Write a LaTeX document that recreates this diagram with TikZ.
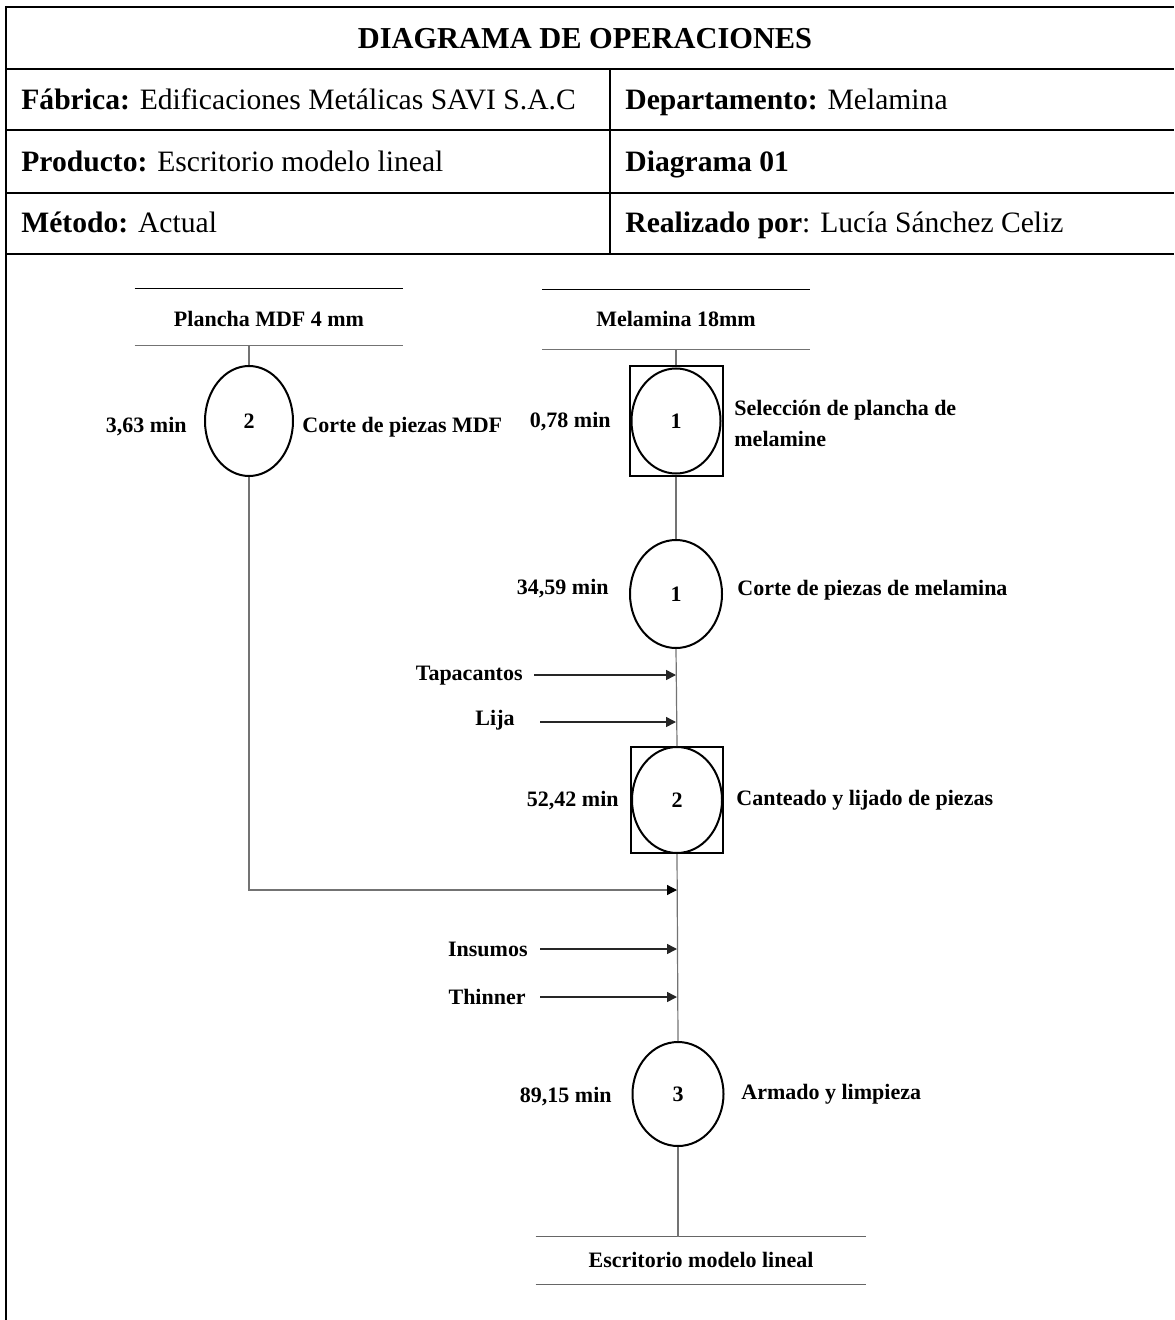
\documentclass[tikz,border=0pt]{standalone}
\usepackage{fontspec}
\setmainfont{Liberation Serif}
\usetikzlibrary{arrows.meta,shapes.geometric}
\begin{document}
\begin{tikzpicture}[x=0.5pt,y=-0.5pt,
  frame/.style={line width=1.3pt,black},
  divider/.style={line width=0.8pt,black},
  hdr/.style={font=\fontsize{14.8}{17}\selectfont,inner sep=0pt,anchor=base west},
  ttl/.style={font=\fontsize{15.2}{18}\selectfont\bfseries,inner sep=0pt,anchor=base},
  lbl/.style={font=\fontsize{11}{13}\selectfont\bfseries,inner sep=0pt},
  opc/.style={ellipse,draw,line width=1pt,inner sep=0pt,font=\fontsize{11}{13}\selectfont\bfseries},
  sqbox/.style={rectangle,draw,line width=1pt,inner sep=0pt},
  endbar/.style={rectangle,inner sep=0pt},
  flow/.style={line width=0.6pt,black!55},
  inarrow/.style={line width=0.75pt,black!85,-{Triangle[length=5pt,width=5pt]}},
  mdfarrow/.style={line width=0.6pt,black!55,-{Triangle[length=5pt,width=5pt,fill=black,color=black]}}
]
\useasboundingbox (0,0) rectangle (1174,1320);

% ---------- header table ----------
\draw[frame] (6,7) -- (1174,7);
\draw[frame] (6,69) -- (1174,69);
\draw[frame] (6,130) -- (1174,130);
\draw[frame] (6,193) -- (1174,193);
\draw[frame] (6,254) -- (1174,254);
\draw[frame] (6,6) -- (6,1320);
\draw[divider] (610,69) -- (610,254);

\node[ttl] (title) at (585,49) {DIAGRAMA DE OPERACIONES};
\node[hdr] (fab) at (21,110) {\textbf{Fábrica:} Edificaciones Metálicas SAVI S.A.C};
\node[hdr] (dep) at (625,110) {\textbf{Departamento:} Melamina};
\node[hdr] (prod) at (21,172) {\textbf{Producto:} Escritorio modelo lineal};
\node[hdr] (diag) at (625,172) {\textbf{Diagrama 01}};
\node[hdr] (met) at (21,233) {\textbf{Método:} Actual};
\node[hdr] (real) at (625,233) {\textbf{Realizado por}: Lucía Sánchez Celiz};

% ---------- source bars ----------
\node[endbar,minimum width=134pt,minimum height=28pt] (mdf) at (269,317) {};
\draw[line width=0.6pt,black] (mdf.north west) -- (mdf.north east);
\draw[line width=0.6pt,black!55] (mdf.south west) -- (mdf.south east);
\node[lbl,anchor=base] (mdfL) at (269,327) {Plancha MDF 4 mm};

\node[endbar,minimum width=133.5pt,minimum height=29.5pt] (mel) at (676,319.5) {};
\draw[line width=0.6pt,black] (mel.north west) -- (mel.north east);
\draw[line width=0.6pt,black!55] (mel.south west) -- (mel.south east);
\node[lbl,anchor=base] (melL) at (676,327) {Melamina 18mm};

% ---------- MDF column ----------
\node[opc,minimum width=44pt,minimum height=55pt] (op2) at (249,421) {2};
\node[lbl,anchor=base east] (t2) at (187,432) {3,63 min};
\node[lbl,anchor=base west] (d2) at (302,432) {Corte de piezas MDF};

% ---------- main column ----------
\node[sqbox,minimum width=46.5pt,minimum height=54.5pt] (s1) at (676,421) {};
\node[opc,minimum width=44.5pt,minimum height=52.5pt] (c1) at (676,421) {1};
\node[lbl,anchor=base east] (t1) at (611,427) {0,78 min};
\node[lbl,anchor=west,align=left,font=\fontsize{11}{15.5}\selectfont\bfseries] (d1) at (734,423) {Selección de plancha de\\melamine};

\node[opc,minimum width=46pt,minimum height=54pt] (op1) at (676,594) {1};
\node[lbl,anchor=base east] (t3) at (609,594) {34,59 min};
\node[lbl,anchor=base west] (d3) at (737,595) {Corte de piezas de melamina};

\node[sqbox,minimum width=46pt,minimum height=53pt] (s2) at (677,800) {};
\node[opc,minimum width=45pt,minimum height=53pt] (c2) at (677,800) {2};
\node[lbl,anchor=base east] (t4) at (619,806) {52,42 min};
\node[lbl,anchor=base west] (d4) at (736,805) {Canteado y lijado de piezas};

\node[opc,minimum width=45.5pt,minimum height=52pt] (op3) at (678,1094) {3};
\node[lbl,anchor=base east] (t5) at (612,1102) {89,15 min};
\node[lbl,anchor=base west] (d5) at (741,1099) {Armado y limpieza};

\node[endbar,minimum width=165pt,minimum height=23.5pt] (out) at (701,1260.5) {};
\draw[line width=0.6pt,black!60] (out.north west) -- (out.north east);
\draw[line width=0.6pt,black!60] (out.south west) -- (out.south east);
\node[lbl,anchor=base] (outL) at (701,1267) {Escritorio modelo lineal};

% ---------- flow lines ----------
\draw[flow] (op2 |- mdf.south) -- (op2.north);
\draw[flow] (s1 |- mel.south) -- (s1.north);
\draw[flow] (s1.south) -- (op1.north);
\draw[flow] (op1.south) -- (s2.north);
\draw[flow] (s2.south) -- (op3.north);
\draw[flow] (op3.south) -- (op3 |- out.north);

% ---------- inputs ----------
\coordinate (jt) at (676,675);
\coordinate (jl) at (676,722);
\coordinate (jm) at (677,890);
\coordinate (ji) at (677,949);
\coordinate (jh) at (677,997);
\coordinate (st) at (534,675);
\coordinate (sl) at (540,722);
\coordinate (si) at (540,949);
\coordinate (sh) at (540,997);

\node[lbl,anchor=base east] (tapa) at (523,680) {Tapacantos};
\node[lbl,anchor=base east] (lija) at (515,725) {Lija};
\node[lbl,anchor=base east] (insu) at (528,956) {Insumos};
\node[lbl,anchor=base east] (thin) at (526,1004) {Thinner};

\draw[inarrow] (st) -- (jt);
\draw[inarrow] (sl) -- (jl);
\draw[inarrow] (si) -- (ji);
\draw[inarrow] (sh) -- (jh);
\draw[mdfarrow] (op2.south) |- (jm);
\end{tikzpicture}
\end{document}
